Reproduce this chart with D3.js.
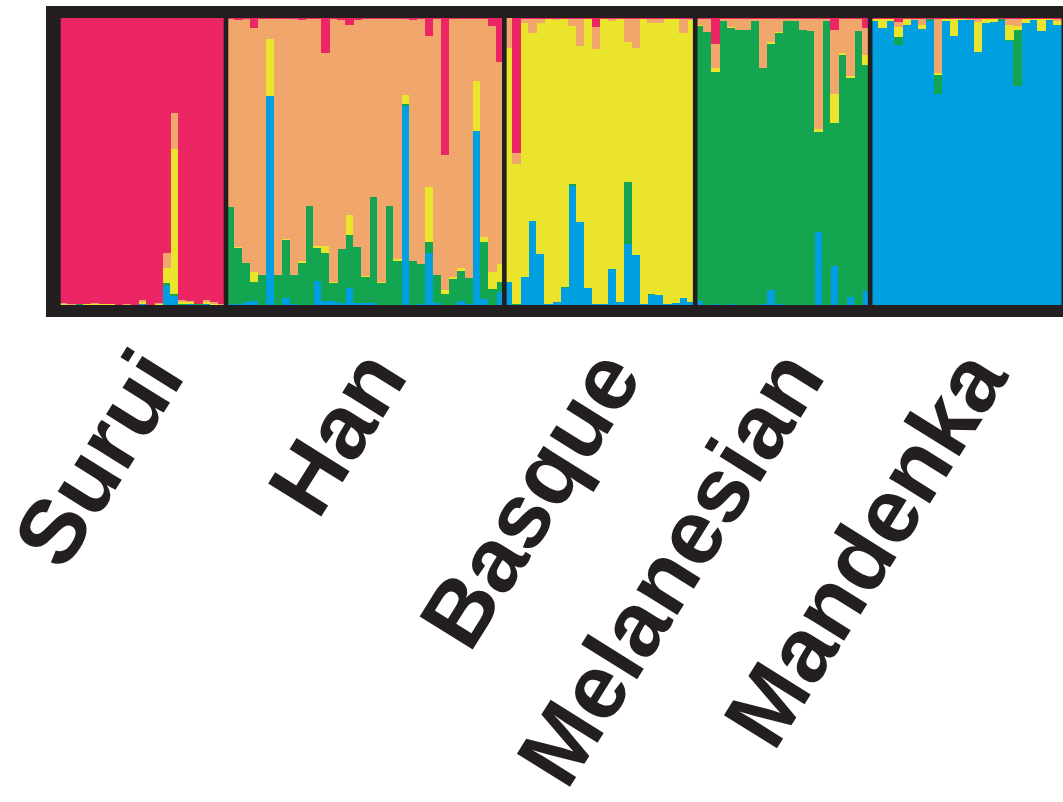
<!DOCTYPE html>
<html>
<head>
<meta charset="utf-8">
<script src="https://cdn.jsdelivr.net/npm/d3@7"></script>
<style>
  body { margin: 0; background: #fff; }
</style>
</head>
<body>
<div id="chart"></div>
<script>
const width = 1063;
const height = 802;

// ancestry clusters, stacked from the bottom up
const clusters = ["blue", "green", "yellow", "orange", "red"];
const clusterColors = ["#00a0e0", "#13a54f", "#ebe42d", "#f1a66c", "#ec2564"];

const populations = ["Surui", "Han", "Basque", "Melanesian", "Mandenka"];

// one row per individual: [blue, green, yellow, orange, red]
const surui = [
  [0, 0, 0.003, 0.003, 0.994], [0, 0, 0, 0.002, 0.998], [0, 0.004, 0, 0, 0.996],
  [0, 0, 0.002, 0.003, 0.995], [0, 0, 0.003, 0.004, 0.993], [0, 0, 0.002, 0.002, 0.996],
  [0, 0, 0.002, 0, 0.998], [0, 0, 0, 0, 1], [0, 0, 0, 0.002, 0.998],
  [0, 0, 0, 0, 1], [0.002, 0.003, 0.005, 0.006, 0.984], [0, 0, 0, 0, 1],
  [0, 0, 0.003, 0.003, 0.994], [0.065, 0.012, 0.052, 0.052, 0.819], [0.033, 0.005, 0.507, 0.125, 0.330],
  [0, 0.004, 0.008, 0.004, 0.984], [0.002, 0.002, 0.005, 0.006, 0.985], [0, 0.002, 0, 0, 0.998],
  [0.003, 0.002, 0.005, 0.006, 0.984], [0, 0, 0.003, 0.006, 0.991], [0, 0, 0, 0.003, 0.997]
];

const han = [
  [0.005, 0.336, 0, 0.656, 0.003], [0.004, 0.195, 0.004, 0.789, 0.008], [0.010, 0.136, 0, 0.851, 0.003],
  [0.014, 0.065, 0.036, 0.850, 0.035], [0, 0.105, 0, 0.892, 0.003], [0.729, 0, 0.197, 0.071, 0.003],
  [0, 0.105, 0, 0.892, 0.003], [0.026, 0.199, 0.005, 0.767, 0.003], [0.003, 0.102, 0, 0.892, 0.003],
  [0, 0.146, 0.006, 0.840, 0.008], [0, 0.344, 0, 0.653, 0.003], [0.082, 0.117, 0.006, 0.792, 0.003],
  [0.014, 0.167, 0.023, 0.674, 0.122], [0.014, 0.063, 0.004, 0.916, 0.003], [0.006, 0.189, 0, 0.797, 0.008],
  [0.060, 0.184, 0.071, 0.662, 0.023], [0.006, 0.196, 0, 0.792, 0.006], [0.006, 0.092, 0.003, 0.896, 0.003],
  [0.006, 0.370, 0, 0.621, 0.003], [0, 0.077, 0.004, 0.916, 0.003], [0, 0.346, 0, 0.651, 0.003],
  [0, 0.152, 0.008, 0.837, 0.003], [0.695, 0.007, 0.031, 0.264, 0.003], [0, 0.152, 0.003, 0.839, 0.006],
  [0.004, 0.140, 0, 0.853, 0.003], [0.181, 0.038, 0.192, 0.525, 0.064], [0.006, 0.099, 0, 0.892, 0.003],
  [0, 0.039, 0.014, 0.471, 0.476], [0, 0.091, 0.007, 0.899, 0.003], [0.013, 0.105, 0.011, 0.868, 0.003],
  [0.003, 0.090, 0, 0.904, 0.003], [0.607, 0, 0.172, 0.218, 0.003], [0.021, 0.199, 0.017, 0.760, 0.003],
  [0, 0.057, 0.059, 0.857, 0.027], [0.047, 0.032, 0.064, 0.703, 0.154]
];

const basque = [
  [0.079, 0, 0.816, 0.105, 0], [0, 0.003, 0.490, 0.037, 0.470], [0.098, 0, 0.884, 0.015, 0.003],
  [0.294, 0, 0.653, 0.050, 0.003], [0.178, 0, 0.804, 0.015, 0.003], [0.003, 0, 0.994, 0, 0.003],
  [0.012, 0, 0.982, 0.003, 0.003], [0.060, 0.002, 0.933, 0.002, 0.003], [0.413, 0.008, 0.550, 0.026, 0.003],
  [0.288, 0, 0.616, 0.093, 0.003], [0.058, 0, 0.939, 0, 0.003], [0.005, 0, 0.887, 0.077, 0.031],
  [0.005, 0, 0.992, 0, 0.003], [0.125, 0, 0.864, 0.008, 0.003], [0.012, 0, 0.985, 0, 0.003],
  [0.214, 0.216, 0.488, 0.079, 0.003], [0.174, 0, 0.721, 0.102, 0.003], [0.002, 0, 0.995, 0, 0.003],
  [0.035, 0.003, 0.944, 0.015, 0.003], [0.035, 0, 0.947, 0.015, 0.003], [0.005, 0, 0.990, 0.002, 0.003],
  [0.007, 0, 0.990, 0, 0.003], [0.024, 0, 0.923, 0.050, 0.003], [0.012, 0, 0.982, 0.003, 0.003]
];

const melanesian = [
  [0.015, 0.958, 0.004, 0.020, 0.003], [0, 0.951, 0, 0.046, 0.003], [0.005, 0.806, 0.015, 0.085, 0.089],
  [0, 0.991, 0, 0.006, 0.003], [0.003, 0.962, 0.005, 0.027, 0.003], [0, 0.959, 0, 0.038, 0.003],
  [0, 0.959, 0, 0.038, 0.003], [0, 0.988, 0, 0.009, 0.003], [0.003, 0.823, 0, 0.171, 0.003],
  [0.053, 0.857, 0.006, 0.081, 0.003], [0.002, 0.946, 0.003, 0.046, 0.003], [0, 0.991, 0, 0.006, 0.003],
  [0, 0.988, 0, 0.009, 0.003], [0, 0.959, 0, 0.038, 0.003], [0, 0.954, 0, 0.043, 0.003],
  [0.256, 0.346, 0.012, 0.383, 0.003], [0, 0.988, 0, 0.009, 0.003], [0.135, 0.500, 0.099, 0.223, 0.043],
  [0, 0.872, 0.005, 0.120, 0.003], [0.028, 0.763, 0.007, 0.199, 0.003], [0, 0.954, 0, 0.043, 0.003],
  [0.048, 0.789, 0.035, 0.093, 0.035]
];

const mandenka = [
  [0.990, 0, 0.007, 0, 0.003], [0.966, 0, 0.031, 0, 0.003], [0.990, 0, 0.007, 0, 0.003],
  [0.905, 0.028, 0.036, 0.016, 0.015], [0.974, 0, 0.023, 0, 0.003], [0.994, 0, 0, 0.003, 0.003],
  [0.962, 0, 0.015, 0.020, 0.003], [0.990, 0.007, 0, 0, 0.003], [0.735, 0.066, 0.007, 0.189, 0.003],
  [0.990, 0, 0.007, 0, 0.003], [0.937, 0, 0.060, 0, 0.003], [0.992, 0, 0.005, 0, 0.003],
  [0.994, 0, 0, 0.003, 0.003], [0.882, 0, 0.103, 0.012, 0.003], [0.983, 0, 0.014, 0, 0.003],
  [0.985, 0, 0.012, 0, 0.003], [0.989, 0.008, 0, 0, 0.003], [0.919, 0.005, 0.053, 0.020, 0.003],
  [0.764, 0.193, 0.014, 0.026, 0.003], [0.983, 0, 0.014, 0, 0.003], [0.992, 0, 0.005, 0, 0.003],
  [0.953, 0, 0.044, 0, 0.003], [0.994, 0, 0.003, 0, 0.003], [0.974, 0, 0.015, 0.008, 0.003]
];

const groups = [surui, han, basque, melanesian, mandenka];

const frameColor = "#231f20";

const svg = d3.select("#chart")
  .append("svg")
  .attr("width", width)
  .attr("height", height);

svg.append("rect")
  .attr("width", width)
  .attr("height", height)
  .attr("fill", "#fff");

// flatten to one record per individual
const individuals = [];
groups.forEach((rows, gi) => {
  rows.forEach((r, i) => {
    const d = { id: `${gi}-${i}`, pop: populations[gi] };
    clusters.forEach((c, ci) => d[c] = r[ci]);
    individuals.push(d);
  });
});

const x = d3.scaleBand()
  .domain(individuals.map(d => d.id))
  .range([59, 1061])
  .paddingInner(0);

const y = d3.scaleLinear()
  .domain([0, 1])
  .range([305, 18]);

const series = d3.stack().keys(clusters)(individuals);

// bars (crisp edges so neighbouring bars of one colour don't show seams)
svg.append("g")
  .attr("shape-rendering", "crispEdges")
  .selectAll("g")
  .data(series)
  .join("g")
  .attr("fill", (d, i) => clusterColors[i])
  .selectAll("rect")
  .data(d => d)
  .join("rect")
  .attr("x", d => x(d.data.id))
  .attr("width", x.bandwidth() + 0.6)
  .attr("y", d => y(d[1]))
  .attr("height", d => Math.max(0, y(d[0]) - y(d[1])));

// group extents
const extents = groups.map((rows, gi) => {
  const x0 = x(`${gi}-0`);
  const x1 = x(`${gi}-${rows.length - 1}`) + x.bandwidth();
  return { x0, x1, mid: (x0 + x1) / 2 };
});

// separators between populations
svg.append("g")
  .selectAll("rect")
  .data(extents.slice(1))
  .join("rect")
  .attr("x", d => d.x0 - 2.3)
  .attr("width", 4.6)
  .attr("y", y(1))
  .attr("height", y(0) - y(1))
  .attr("fill", frameColor);

// thick frame
const frame = svg.append("g").attr("fill", frameColor);
frame.append("rect").attr("x", 46).attr("y", 6).attr("width", 1040).attr("height", y(1) - 6);
frame.append("rect").attr("x", 46).attr("y", y(0)).attr("width", 1040).attr("height", 317 - y(0));
frame.append("rect").attr("x", 46).attr("y", 6).attr("width", 14.7).attr("height", 311);
frame.append("rect").attr("x", 1061.5).attr("y", 6).attr("width", 30).attr("height", 311);

// rotated population labels
svg.append("g")
  .selectAll("text")
  .data(populations)
  .join("text")
  .attr("transform", (d, i) => `translate(${extents[i].mid + 44}, 376) rotate(-58)`)
  .attr("text-anchor", "end")
  .style("font-family", "'Liberation Sans', Arial, sans-serif")
  .style("font-weight", "bold")
  .style("font-size", "91px")
  .attr("fill", frameColor)
  .text(d => d);
</script>
</body>
</html>
